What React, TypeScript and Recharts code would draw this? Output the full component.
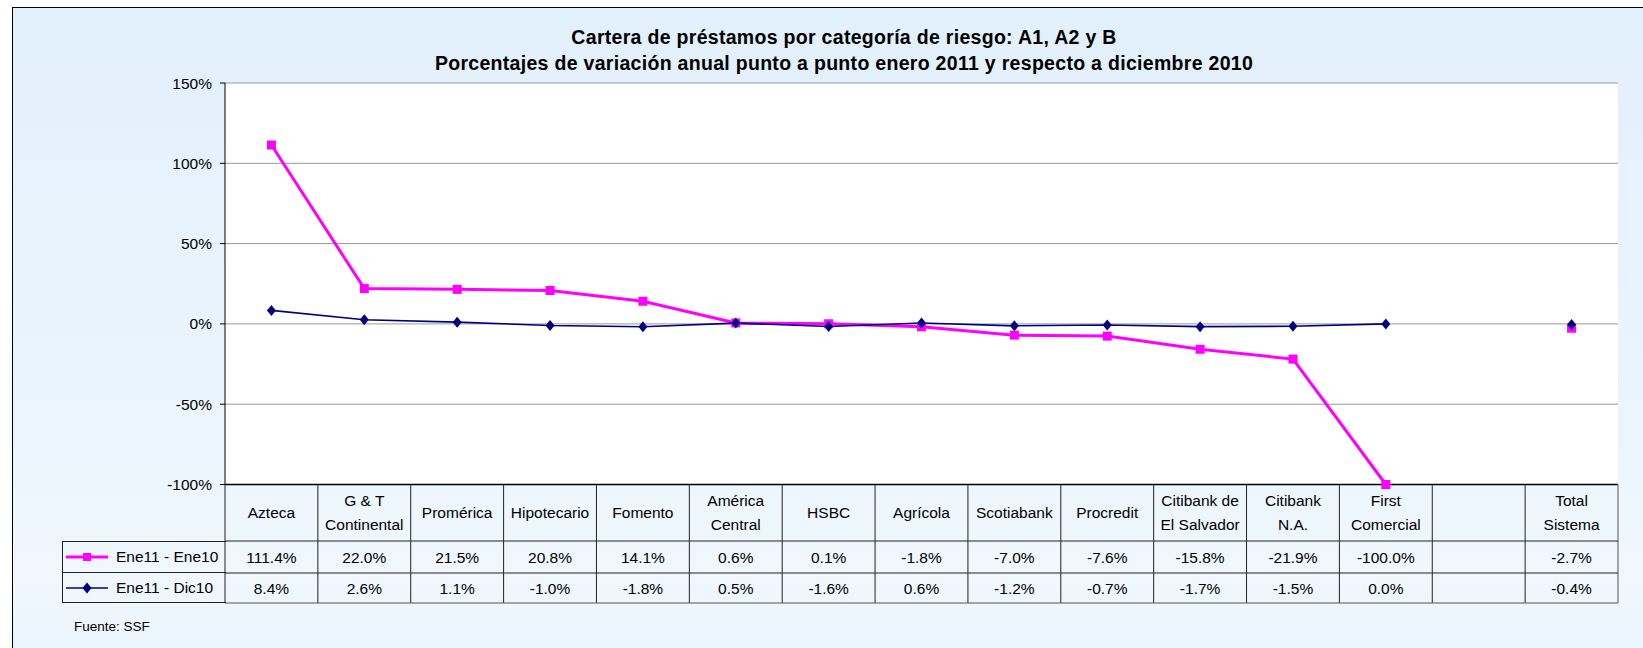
import { LineChart, Line, XAxis, YAxis, CartesianGrid, Legend } from "recharts";

const categories = [
  "Azteca",
  "G & T\nContinental",
  "Promérica",
  "Hipotecario",
  "Fomento",
  "América\nCentral",
  "HSBC",
  "Agrícola",
  "Scotiabank",
  "Procredit",
  "Citibank de\nEl Salvador",
  "Citibank\nN.A.",
  "First\nComercial",
  " ",
  "Total\nSistema",
];
const eneEne10 = [111.4, 22.0, 21.5, 20.8, 14.1, 0.6, 0.1, -1.8, -7.0, -7.6, -15.8, -21.9, -100.0, null, -2.7];
const eneDic10 = [8.4, 2.6, 1.1, -1.0, -1.8, 0.5, -1.6, 0.6, -1.2, -0.7, -1.7, -1.5, 0.0, null, -0.4];
const yTicks = [-100, -50, 0, 50, 100, 150];
const seriesNames = ["Ene11 - Ene10", "Ene11 - Dic10"];

const data = categories.map((name, i) => ({ name, a: eneEne10[i], b: eneDic10[i] }));

const FONT = "'Liberation Sans', Arial, sans-serif";
const PINK = "#FF00FF";
const NAVY = "#000080";
const W = 1643;
const H = 648;
const PLOT_LEFT = 225;
const PLOT_RIGHT = 1618;
const COL_W = (PLOT_RIGHT - PLOT_LEFT) / categories.length;
const HEAD_H = 56.5;
const ROW1_H = 32;
const ROW2_H = 30;
const LINE = "#222";

const fmt = (v: number | null) => (v == null ? "" : `${v.toFixed(1)}%`);

function Square({ cx, cy, size = 9 }: any) {
  if (cx == null || cy == null) return <g />;
  return <rect x={cx - size / 2} y={cy - size / 2} width={size} height={size} fill={PINK} />;
}

function Diamond({ cx, cy }: any) {
  if (cx == null || cy == null) return <g />;
  return (
    <path d={`M${cx},${cy - 5.5} L${cx + 4.5},${cy} L${cx},${cy + 5.5} L${cx - 4.5},${cy} Z`} fill={NAVY} />
  );
}

// one column of the table under the plot, hung off the x axis ticks
function TableColumn(props: any) {
  const { x, y, payload } = props;
  const i = props.index ?? payload.index;
  const left = x - COL_W / 2;
  const right = x + COL_W / 2;
  const bottom = y + HEAD_H + ROW1_H + ROW2_H;
  const lines = categories[i].split("\n");
  const headMid = y + HEAD_H / 2;
  return (
    <g fontFamily={FONT} fontSize={15.5} fill="#000">
      {i === 0 && <line x1={left} x2={left} y1={y} y2={bottom} stroke={LINE} />}
      <line x1={right} x2={right} y1={y} y2={bottom} stroke={i === categories.length - 1 ? "#555" : LINE} />
      <line x1={left} x2={right} y1={y + HEAD_H} y2={y + HEAD_H} stroke={LINE} />
      <line x1={left} x2={right} y1={y + HEAD_H + ROW1_H} y2={y + HEAD_H + ROW1_H} stroke={LINE} />
      <line x1={left} x2={right} y1={bottom} y2={bottom} stroke="#555" />
      {lines.map((t, k) => (
        <text
          key={k}
          x={x}
          y={headMid + 5.5 + (k - (lines.length - 1) / 2) * 24}
          textAnchor="middle"
        >
          {t}
        </text>
      ))}
      <text x={x} y={y + HEAD_H + ROW1_H / 2 + 5.5} textAnchor="middle">
        {fmt(eneEne10[i])}
      </text>
      <text x={x} y={y + HEAD_H + ROW1_H + ROW2_H / 2 + 5.5} textAnchor="middle">
        {fmt(eneDic10[i])}
      </text>
    </g>
  );
}

function TableLegend() {
  const rowStyle = (h: number, top: boolean): React.CSSProperties => ({
    height: h,
    boxSizing: "border-box",
    borderTop: top ? `1px solid ${LINE}` : "none",
    borderBottom: `1px solid ${LINE}`,
    display: "flex",
    alignItems: "center",
    whiteSpace: "nowrap",
  });
  return (
    <div style={{ width: 163, fontFamily: FONT, fontSize: 15.5, color: "#000", borderLeft: `1px solid ${LINE}` }}>
      <div style={rowStyle(ROW1_H, true)}>
        <svg width={50} height={14} style={{ marginLeft: 3 }}>
          <line x1={0} x2={42} y1={7} y2={7} stroke={PINK} strokeWidth={3} />
          <Square cx={21} cy={7} size={8} />
        </svg>
        <span>{seriesNames[0]}</span>
      </div>
      <div style={rowStyle(ROW2_H, false)}>
        <svg width={50} height={14} style={{ marginLeft: 3 }}>
          <line x1={0} x2={42} y1={7} y2={7} stroke={NAVY} strokeWidth={1.5} />
          <Diamond cx={21} cy={7} />
        </svg>
        <span>{seriesNames[1]}</span>
      </div>
    </div>
  );
}

export default function App() {
  return (
    <div style={{ position: "absolute", left: 0, top: 0, width: W, height: H, background: "#fff", overflow: "hidden" }}>
      <div
        style={{
          position: "absolute",
          left: 12,
          top: 7,
          width: W + 20,
          height: H + 20,
          border: "1.5px solid #000",
          background: "linear-gradient(to bottom, #E2F0FC 0%, #EAF4FD 55%, #F0F7FE 85%, #E9F4FD 100%)",
        }}
      />
      <div
        style={{
          position: "absolute",
          left: 0,
          top: 24,
          width: 1688,
          textAlign: "center",
          fontFamily: FONT,
          fontWeight: "bold",
          fontSize: 19.5,
          letterSpacing: 0.3,
          lineHeight: "26px",
          color: "#000",
        }}
      >
        Cartera de préstamos por categoría de riesgo: A1, A2 y B
        <br />
        Porcentajes de variación anual punto a punto enero 2011 y respecto a diciembre 2010
      </div>
      <div style={{ position: "absolute", left: 0, top: 0 }}>
        <LineChart width={W} height={H} data={data} margin={{ top: 83, right: W - PLOT_RIGHT, bottom: 44, left: PLOT_LEFT - 60 }}>
          <CartesianGrid vertical={false} stroke="#999" fill="#fff" />
          <XAxis
            dataKey="name"
            interval={0}
            height={119.5}
            padding={{ left: COL_W / 2, right: COL_W / 2 }}
            axisLine={{ stroke: "#000", strokeWidth: 1.5 }}
            tickLine={false}
            tickSize={0}
            tickMargin={0}
            tick={<TableColumn />}
          />
          <YAxis
            width={60}
            domain={[-100, 150]}
            ticks={yTicks}
            interval={0}
            tickFormatter={(v) => `${v}%`}
            tick={{ fill: "#000", fontSize: 15.5, fontFamily: FONT }}
            axisLine={{ stroke: "#000" }}
            tickLine={{ stroke: "#000" }}
            tickSize={5}
            tickMargin={8}
          />
          <YAxis yAxisId="r" orientation="right" width={0} tick={false} axisLine={{ stroke: "#999" }} tickLine={false} />
          <Legend
            layout="vertical"
            align="center"
            verticalAlign="middle"
            content={<TableLegend />}
            wrapperStyle={{ left: 62, top: 484.5 + HEAD_H, width: 163, height: ROW1_H + ROW2_H }}
          />
          <Line
            dataKey="a"
            name={seriesNames[0]}
            stroke={PINK}
            strokeWidth={3}
            dot={(p: any) => <Square key={p.index} cx={p.cx} cy={p.cy} />}
            activeDot={false}
            isAnimationActive={false}
          />
          <Line
            dataKey="b"
            name={seriesNames[1]}
            stroke={NAVY}
            strokeWidth={1.6}
            dot={(p: any) => <Diamond key={p.index} cx={p.cx} cy={p.cy} />}
            activeDot={false}
            isAnimationActive={false}
          />
        </LineChart>
      </div>
      <div style={{ position: "absolute", left: 74, top: 619, fontFamily: FONT, fontSize: 13.5, color: "#000" }}>
        Fuente: SSF
      </div>
    </div>
  );
}
